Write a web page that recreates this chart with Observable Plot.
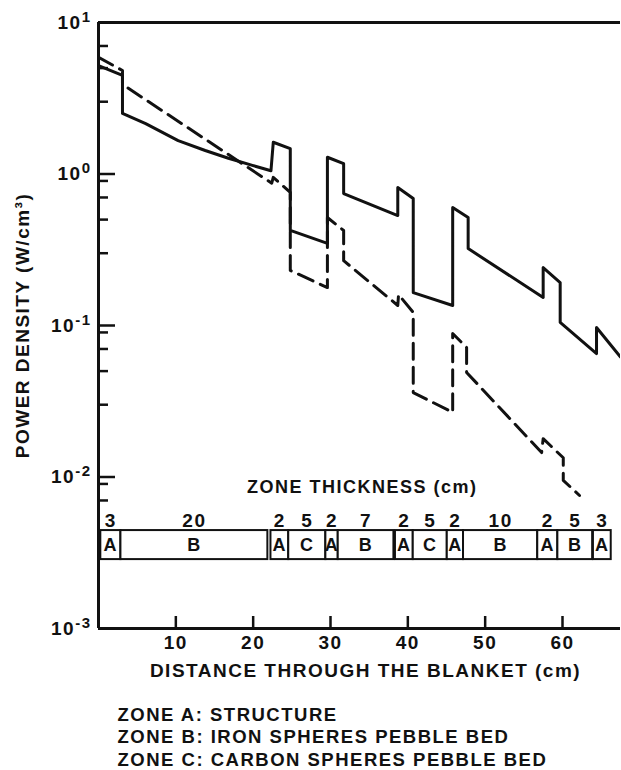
<!DOCTYPE html>
<html><head><meta charset="utf-8">
<script src="https://cdn.jsdelivr.net/npm/d3@7"></script>
<script src="https://cdn.jsdelivr.net/npm/@observablehq/plot@0.6"></script>
<style>
body{margin:0;background:#fff;}
svg text{font-family:"Liberation Sans",Arial,sans-serif;font-weight:bold;letter-spacing:1.5px;fill:#111;}
</style></head><body><div id="chart"></div>
<script>
// Solid curve (distance cm, power density W/cm3)
const solidX = [0, 3.1, 3.1, 6.1, 10.3, 13.8, 16.8, 19.9, 22.3, 22.6, 24.8, 24.8, 29.6, 29.6, 31.7, 31.7, 38.7, 38.7, 40.7, 40.7, 45.8, 45.8, 47.8, 47.8, 57.5, 57.5, 59.7, 59.7, 64.4, 64.4, 67.5];
const solidY = [5.2, 4.47, 2.51, 2.15, 1.66, 1.43, 1.27, 1.14, 1.05, 1.62, 1.47, 0.424, 0.348, 1.29, 1.17, 0.743, 0.532, 0.815, 0.689, 0.165, 0.1355, 0.601, 0.516, 0.322, 0.153, 0.241, 0.192, 0.105, 0.0653, 0.097, 0.062];
// Dashed curve
const dashX = [0, 3.1, 3.1, 22.4, 22.6, 24.8, 24.8, 29.6, 29.6, 31.7, 31.7, 38.7, 38.8, 40.7, 40.7, 45.8, 45.8, 47.6, 47.6, 57.3, 57.5, 60.1, 60.1, 62.2];
const dashY = [5.9, 4.82, 3.9, 0.87, 0.95, 0.755, 0.231, 0.178, 0.516, 0.424, 0.268, 0.1355, 0.16, 0.122, 0.0361, 0.0267, 0.0885, 0.0716, 0.049, 0.0145, 0.0179, 0.0134, 0.0095, 0.00755];
// Zones
const zoneType = ["A","B","A","C","A","B","A","C","A","B","A","B","A"];
const zoneThickness = [3,20,2,5,2,7,2,5,2,10,2,5,3];
const zoneStart = [0.3, 2.9, 22.3, 24.6, 29.4, 31.0, 38.4, 40.7, 45.1, 47.2, 56.8, 59.4, 64.0];
const zoneEnd   = [2.9, 21.9, 24.6, 29.4, 31.0, 38.2, 40.7, 45.1, 47.2, 56.8, 59.4, 63.9, 66.3];
// Ticks
const xTicks = [10, 20, 30, 40, 50, 60];
const yDecades = [1e-3, 1e-2, 1e-1, 1, 10];
const yMinor = [3, 5, 7, 0.3, 0.5, 0.7, 0.9, 0.03, 0.05, 0.07, 0.09, 0.007, 0.009];
// Texts
const yTitle = "POWER DENSITY (W/cm³)";
const xTitle = "DISTANCE THROUGH THE BLANKET (cm)";
const zoneTitle = "ZONE THICKNESS (cm)";
const legendLines = ["ZONE A: STRUCTURE", "ZONE B: IRON SPHERES PEBBLE BED", "ZONE C: CARBON SPHERES PEBBLE BED"];

const solid = solidX.map((x, i) => ({x, y: solidY[i]}));
const dashed = dashX.map((x, i) => ({x, y: dashY[i]}));
const zones = zoneType.map((t, i) => ({type: t, thickness: zoneThickness[i], start: zoneStart[i], end: zoneEnd[i]}));
const barBottom = 0.00285, barTop = 0.00443, letterY = 0.00355, thickY = 0.00516;
const ink = "#111";

const chart = Plot.plot({
  width: 621, height: 770,
  marginLeft: 98, marginRight: 1, marginTop: 22, marginBottom: 142,
  x: {domain: [0, 67.5]},
  y: {type: "log", domain: [1e-3, 10]},
  marks: [
    Plot.axisX({ticks: xTicks, tickSize: 0, tickPadding: 7, fontSize: 19, label: null, tickFormat: d => String(d)}),
    Plot.axisY({ticks: yDecades, tickSize: 0, tickPadding: 7, fontSize: 19, label: null, tickFormat: d => "10^" + Math.round(Math.log10(d))}),
    Plot.ruleX([0], {stroke: ink, strokeWidth: 3}),
    Plot.ruleY([10], {stroke: ink, strokeWidth: 3}),
    Plot.ruleY([1e-3], {stroke: ink, strokeWidth: 3}),
    Plot.ruleY(yDecades, {stroke: ink, strokeWidth: 2.5, insetRight: 505}),
    Plot.ruleY(yMinor, {stroke: ink, strokeWidth: 2.5, insetRight: 512}),
    Plot.ruleX(xTicks, {stroke: ink, strokeWidth: 2.5, insetTop: 594}),
    Plot.line(solid, {x: "x", y: "y", stroke: ink, strokeWidth: 3, clip: true}),
    Plot.line(dashed, {x: "x", y: "y", stroke: ink, strokeWidth: 3, strokeDasharray: "16,8", clip: true}),
    Plot.rect(zones, {x1: "start", x2: "end", y1: barBottom, y2: barTop, fill: "white", stroke: ink, strokeWidth: 2}),
    Plot.text(zones, {x: d => (d.start + d.end) / 2, y: letterY, text: "type", fontSize: 18}),
    Plot.text(zones, {x: d => (d.start + d.end) / 2, y: thickY, text: d => String(d.thickness), fontSize: 19}),
    Plot.text([zoneTitle], {x: 34.1, y: 0.00853, fontSize: 18}),
    Plot.text([yTitle], {frameAnchor: "left", textAnchor: "middle", dx: -76, rotate: -90, fontSize: 19}),
    Plot.text([xTitle], {frameAnchor: "bottom", textAnchor: "middle", dx: 6, dy: 48, fontSize: 19}),
    Plot.text([legendLines.join("\n")], {frameAnchor: "bottom-left", dx: 19, dy: 77, lineAnchor: "top", textAnchor: "start", lineHeight: 1.2, fontSize: 18.5})
  ]
});

d3.select(chart).selectAll("text").each(function() {
  const t = this.textContent;
  if (this.childElementCount === 0 && /^10\^/.test(t)) {
    const e = t.split("^")[1];
    const s = d3.select(this);
    s.text(null);
    s.append("tspan").text("10");
    s.append("tspan").attr("dy", -7).attr("font-size", 15).text(e);
  }
});

document.getElementById("chart").appendChild(chart);
</script></body></html>
